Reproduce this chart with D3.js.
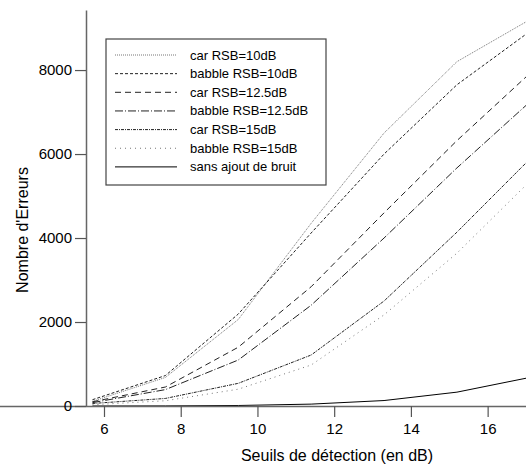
<!DOCTYPE html>
<html>
<head>
<meta charset="utf-8">
<script src="https://cdn.jsdelivr.net/npm/d3@7"></script>
<style>
  body { margin: 0; background: #fff; }
  text { font-family: "Liberation Sans", Arial, Helvetica, sans-serif; fill: #000; }
</style>
</head>
<body>
<div id="graph"></div>
<script>
// seuils (dB)
var seuils = [5.7, 7.6, 9.5, 11.4, 13.3, 15.2, 17.1];

var carRSB10     = [110, 680, 2060, 4350, 6500, 8200, 9200];
var babbleRSB10  = [150, 725, 2190, 4120, 6000, 7650, 8920];
var carRSB125    = [100, 452, 1400, 2840, 4600, 6320, 7920];
var babbleRSB125 = [80, 390, 1095, 2400, 4000, 5670, 7240];
var carRSB15     = [60, 180, 540, 1214, 2500, 4140, 5880];
var babbleRSB15  = [30, 125, 400, 976, 2170, 3640, 5350];
var sansBruit    = [0, 2, 12, 45, 130, 330, 680];

var yTicks = [0, 2000, 4000, 6000, 8000];
var xTicks = [6, 8, 10, 12, 14, 16];

var series = [
  { name: "car RSB=10dB", values: carRSB10, color: "#777", dash: "1,1" },
  { name: "babble RSB=10dB", values: babbleRSB10, color: "#222", dash: "3,2" },
  { name: "car RSB=12.5dB", values: carRSB125, color: "#222", dash: "6,4" },
  { name: "babble RSB=12.5dB", values: babbleRSB125, color: "#222", dash: "8,2,1,2" },
  { name: "car RSB=15dB", values: carRSB15, color: "#222", dash: "3,1,1,1" },
  { name: "babble RSB=15dB", values: babbleRSB15, color: "#777", dash: "1,4" },
  { name: "sans ajout de bruit", values: sansBruit, color: "#000", dash: null }
];

var W = 526, H = 473;
var svg = d3.select("#graph").append("svg")
  .attr("width", W).attr("height", H);

var x = d3.scaleLinear().domain([5.531, 17]).range([86, 526]);
var y = d3.scaleLinear().domain([0, 9430]).range([406, 10]);

svg.append("defs").append("clipPath").attr("id", "clip")
  .append("rect").attr("x", 86).attr("y", 0).attr("width", 440).attr("height", 406);

// courbes
var line = d3.line()
  .x(function(d, i) { return x(seuils[i]); })
  .y(function(d) { return y(d); });

svg.append("g").attr("clip-path", "url(#clip)")
  .selectAll("path").data(series).enter().append("path")
  .attr("d", function(s) { return line(s.values); })
  .attr("fill", "none")
  .attr("stroke", function(s) { return s.color; })
  .attr("stroke-width", 1)
  .attr("stroke-dasharray", function(s) { return s.dash; });

// axes
var xAxis = svg.append("g")
  .attr("transform", "translate(0,406)")
  .call(d3.axisBottom(x).tickValues(xTicks).tickFormat(d3.format("d"))
    .tickSize(11).tickPadding(6).tickSizeOuter(0));
var yAxis = svg.append("g")
  .attr("transform", "translate(86,0)")
  .call(d3.axisLeft(y).tickValues(yTicks).tickFormat(d3.format("d"))
    .tickSize(11).tickPadding(3).tickSizeOuter(0));

[xAxis, yAxis].forEach(function(a) {
  a.select(".domain").attr("stroke", "#666").attr("stroke-width", 1.5);
  a.selectAll(".tick line").attr("stroke", "#555").attr("stroke-width", 1.2);
  a.selectAll(".tick text").attr("font-size", 15).attr("fill", "#000")
    .attr("font-family", "Liberation Sans, Arial, sans-serif");
});
xAxis.select(".domain").attr("d", "M-11,0.5H526");

svg.append("text")
  .attr("x", 337).attr("y", 461)
  .attr("text-anchor", "middle")
  .attr("font-size", 16)
  .text("Seuils de détection (en dB)");

svg.append("text")
  .attr("transform", "translate(28,230) rotate(-90)")
  .attr("text-anchor", "middle")
  .attr("font-size", 16)
  .text("Nombre d'Erreurs");

// légende
var legend = svg.append("g");
legend.append("rect")
  .attr("x", 106).attr("y", 39).attr("width", 220).attr("height", 146)
  .attr("fill", "#fff").attr("stroke", "#444").attr("stroke-width", 1.2);

var rows = legend.selectAll("g.row").data(series).enter().append("g")
  .attr("transform", function(s, i) { return "translate(0," + (55 + i * 18.65) + ")"; });
rows.append("line")
  .attr("x1", 115).attr("x2", 177).attr("y1", 0).attr("y2", 0)
  .attr("stroke", function(s) { return s.color; })
  .attr("stroke-width", 1)
  .attr("stroke-dasharray", function(s) { return s.dash; });
rows.append("text")
  .attr("x", 190).attr("y", 4.5)
  .attr("font-size", 13)
  .text(function(s) { return s.name; });
</script>
</body>
</html>
